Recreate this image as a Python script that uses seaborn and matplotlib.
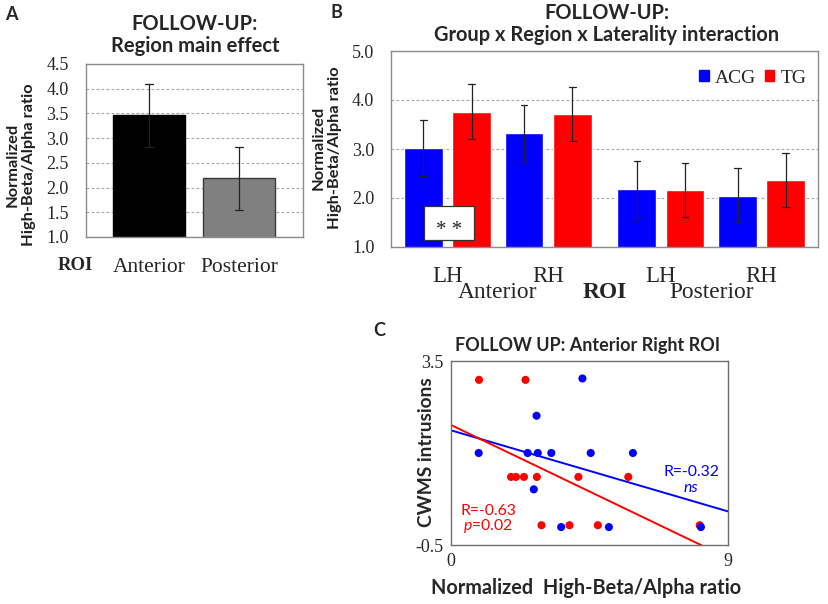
import numpy as np
import pandas as pd
import seaborn as sns
import matplotlib.pyplot as plt
from matplotlib.patches import Patch, Rectangle

# ---------------- data ----------------
# panel A: region main effect
a_regions = ['Anterior', 'Posterior']
a_mean = [3.46, 2.19]
a_err = [0.63, 0.64]

# panel B: group x region x laterality
b_sides = ['LH', 'RH', 'LH', 'RH']
b_regions = ['Anterior', 'Anterior', 'Posterior', 'Posterior']
acg_mean = [3.02, 3.32, 2.19, 2.05]
acg_err = [0.57, 0.57, 0.57, 0.57]
tg_mean = [3.76, 3.72, 2.16, 2.36]
tg_err = [0.56, 0.55, 0.55, 0.55]

# panel C: scatter, anterior right ROI
tg_x = [0.91, 2.42, 1.95, 2.11, 2.37, 2.79, 4.14, 5.76, 2.94, 3.85, 4.77, 8.08]
tg_y = [3.09, 3.09, 0.98, 0.98, 0.98, 0.98, 0.98, 0.98, -0.07, -0.07, -0.07, -0.07]
acg_x = [4.27, 2.78, 0.90, 2.49, 2.82, 3.26, 4.54, 5.91, 2.69, 3.58, 5.13, 8.12]
acg_y = [3.12, 2.31, 1.5, 1.5, 1.5, 1.5, 1.5, 1.5, 0.71, -0.11, -0.11, -0.11]

# layout only: bar slots on the x axis of panel B (gap between regions)
b_slots = [0, 1, 2.12, 3.12]

BLUE = '#0000ff'
RED = '#ff0000'
SANS = 'Lato'
SERIF = 'Liberation Serif'

sns.set_style('white')
plt.rcParams['font.family'] = [SERIF, 'DejaVu Sans']
plt.rcParams['mathtext.fontset'] = 'custom'
plt.rcParams['mathtext.it'] = 'Lato:italic'
plt.rcParams['mathtext.rm'] = 'Lato'

W, H = 829, 604
fig = plt.figure(figsize=(W / 100, H / 100), dpi=100)


def px_axes(left, top, right, bottom):
    return fig.add_axes([left / W, 1 - bottom / H, (right - left) / W, (bottom - top) / H])


def lo_hi(s):
    return s.min(), s.max()


def style_box(ax, color='#8c8c8c'):
    for sp in ax.spines.values():
        sp.set_visible(True)
        sp.set_color(color)
        sp.set_linewidth(1.0)
    ax.tick_params(length=0)


# ---------------- panel A ----------------
ax_a = px_axes(86, 64, 303, 237)
rows = []
for reg, m, e in zip(a_regions, a_mean, a_err):
    rows.append({'region': reg, 'ratio': m - e})
    rows.append({'region': reg, 'ratio': m + e})
df_a = pd.DataFrame(rows)
sns.barplot(data=df_a, x='region', y='ratio', hue='region', order=a_regions,
            palette=['#000000', '#808080'], saturation=1, errorbar=lo_hi, width=0.8,
            capsize=0.08, err_kws={'color': '#222222', 'linewidth': 0.9},
            legend=False, ax=ax_a)
for p, ec in zip(ax_a.patches, ['#000000', '#3a3a3a']):
    p.set_edgecolor(ec)
    p.set_linewidth(1.0)
ax_a.set_ylim(1.0, 4.5)
ax_a.set_xlim(-0.7, 1.71)
ax_a.set_yticks(np.arange(1.0, 4.51, 0.5))
ax_a.set_yticklabels([f'{v:.1f}' for v in np.arange(1.0, 4.51, 0.5)], fontsize=13)
ax_a.set_xticks(range(len(a_regions)))
ax_a.set_xticklabels(a_regions, fontsize=15.5)
ax_a.tick_params(axis='x', pad=15)
ax_a.tick_params(axis='y', pad=12.5)
ax_a.yaxis.grid(True, linestyle=(0, (2.5, 2)), color='#a6a6a6', linewidth=0.8)
ax_a.set_axisbelow(True)
ax_a.set_xlabel('')
ax_a.set_ylabel('')
style_box(ax_a)

fig.text(75 / W, 1 - 265 / H, 'ROI', fontsize=13.5, fontweight='bold', ha='center', va='center')
fig.text(195 / W, 1 - 35 / H, 'FOLLOW-UP:\nRegion main effect', fontsize=14.5, fontweight='bold',
         family=SANS, ha='center', va='center', linespacing=1.1)
fig.text(21 / W, 1 - 165 / H, 'Normalized\nHigh-Beta/Alpha ratio', rotation=90, fontsize=11.8,
         fontweight='bold', family=SANS, ha='center', va='center', color='#1e1e1e', linespacing=1.2)
fig.text(11 / W, 1 - 15 / H, 'A', fontsize=13, fontweight='bold', family=SANS, ha='center', va='center')

# ---------------- panel B ----------------
ax_b = px_axes(391, 51, 818, 247)
rows = []
for grp, means, errs in [('ACG', acg_mean, acg_err), ('TG', tg_mean, tg_err)]:
    for slot, m, e in zip(b_slots, means, errs):
        rows.append({'slot': slot, 'group': grp, 'ratio': m - e})
        rows.append({'slot': slot, 'group': grp, 'ratio': m + e})
df_b = pd.DataFrame(rows)
sns.barplot(data=df_b, x='slot', y='ratio', hue='group', native_scale=True,
            palette={'ACG': BLUE, 'TG': RED}, saturation=1, errorbar=lo_hi, width=0.956, gap=0.195,
            capsize=0.13, err_kws={'color': '#222222', 'linewidth': 0.9},
            legend=False, ax=ax_b)
ax_b.set_ylim(1.0, 5.0)
ax_b.set_xlim(-0.561, 3.68)
ax_b.set_yticks([1, 2, 3, 4, 5])
ax_b.set_yticklabels(['1.0', '2.0', '3.0', '4.0', '5.0'], fontsize=13)
ax_b.set_xticks(b_slots)
ax_b.set_xticklabels(b_sides, fontsize=16.5)
ax_b.tick_params(axis='x', pad=14)
ax_b.tick_params(axis='y', pad=12)
ax_b.yaxis.grid(True, linestyle=(0, (2.5, 2)), color='#a6a6a6', linewidth=0.8)
ax_b.set_axisbelow(True)
ax_b.set_xlabel('')
ax_b.set_ylabel('')
style_box(ax_b)

xt = ax_b.get_xaxis_transform()
for reg in ['Anterior', 'Posterior']:
    idx = [i for i, r in enumerate(b_regions) if r == reg]
    ax_b.text(np.mean([b_slots[i] for i in idx]), -0.23, reg, transform=xt,
              fontsize=16.8, ha='center', va='center')
ax_b.text(np.mean(b_slots[1:3]), -0.23, 'ROI', transform=xt, fontsize=16.8,
          fontweight='bold', ha='center', va='center')

# significance box inside the first bar pair
ax_b.add_patch(Rectangle((-0.235, 1.15), 0.495, 0.69, facecolor='white',
                         edgecolor='#333333', linewidth=0.9, zorder=5))
ax_b.text(0.012, 1.34, '* *', fontsize=15, ha='center', va='center', zorder=6)

ax_b.legend(handles=[Patch(color=BLUE, label='ACG'), Patch(color=RED, label='TG')],
            loc='upper right', ncol=2, frameon=False, fontsize=14, handlelength=0.5,
            handleheight=0.5, handletextpad=0.3, columnspacing=0.45,
            bbox_to_anchor=(1.0, 0.965), borderaxespad=0.2)

fig.text(607 / W, 1 - 24 / H, 'FOLLOW-UP:\nGroup x Region x Laterality interaction', fontsize=14.4,
         fontweight='bold', family=SANS, ha='center', va='center', linespacing=1.1)
fig.text(327 / W, 1 - 148 / H, 'Normalized\nHigh-Beta/Alpha ratio', rotation=90, fontsize=11.8,
         fontweight='bold', family=SANS, ha='center', va='center', color='#1e1e1e', linespacing=1.2)
fig.text(336 / W, 1 - 13 / H, 'B', fontsize=13, fontweight='bold', family=SANS, ha='center', va='center')

# ---------------- panel C ----------------
ax_c = px_axes(451, 361, 728, 545)
df_c = pd.DataFrame({
    'ratio': tg_x + acg_x,
    'intrusions': tg_y + acg_y,
    'group': ['TG'] * len(tg_x) + ['ACG'] * len(acg_x),
})
ax_c.set_xlim(0, 9)
ax_c.set_ylim(-0.5, 3.5)
sns.scatterplot(data=df_c, x='ratio', y='intrusions', hue='group',
                palette={'ACG': BLUE, 'TG': RED}, s=34, linewidth=0, legend=False, ax=ax_c)
for grp, col in [('ACG', BLUE), ('TG', RED)]:
    sub = df_c[df_c['group'] == grp]
    sns.regplot(data=sub, x='ratio', y='intrusions', scatter=False, ci=None, truncate=False,
                color=col, line_kws={'linewidth': 1.4}, ax=ax_c)
ax_c.set_xlim(0, 9)
ax_c.set_ylim(-0.5, 3.5)
ax_c.set_xticks([0, 9])
ax_c.set_xticklabels(['0', '9'], fontsize=13)
ax_c.set_yticks([-0.5, 3.5])
ax_c.set_yticklabels(['-0.5', '3.5'], fontsize=13)
ax_c.tick_params(axis='x', pad=6)
ax_c.tick_params(axis='y', pad=5.5)
ax_c.set_xlabel('')
ax_c.set_ylabel('')
style_box(ax_c, '#6e6e6e')

ax_c.text(7.8, 1.08, 'R=-0.32', color=BLUE, fontsize=11.3, family=SANS, ha='center', va='center')
ax_c.text(7.8, 0.74, 'ns', color=BLUE, fontsize=11.3, family=SANS, style='italic', ha='center', va='center')
ax_c.text(1.21, 0.245, 'R=-0.63', color=RED, fontsize=11.3, family=SANS, ha='center', va='center')
ax_c.text(1.21, -0.08, '$p$=0.02', color=RED, fontsize=11.3, family=SANS, ha='center', va='center')

fig.text(588 / W, 1 - 345 / H, 'FOLLOW UP: Anterior Right ROI', fontsize=13, fontweight='bold',
         family=SANS, ha='center', va='center')
fig.text(586 / W, 1 - 588 / H, 'Normalized  High-Beta/Alpha ratio', fontsize=14.3, fontweight='bold',
         family=SANS, ha='center', va='center')
fig.text(427 / W, 1 - 452 / H, 'CWMS intrusions', rotation=90, fontsize=13.8, fontweight='bold',
         family=SANS, ha='center', va='center')
fig.text(379 / W, 1 - 331 / H, 'C', fontsize=13, fontweight='bold', family=SANS, ha='center', va='center')

fig.savefig('out.png', dpi=100, facecolor='white')
